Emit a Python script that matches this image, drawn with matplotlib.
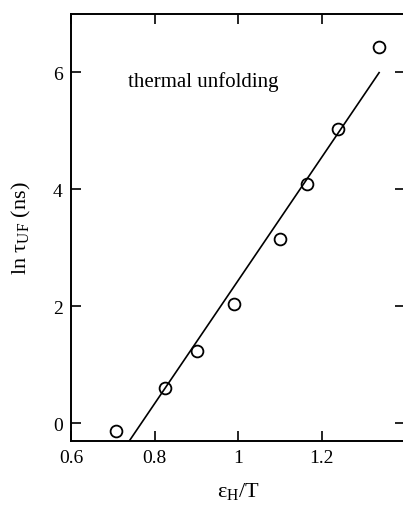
import numpy as np
import matplotlib
matplotlib.use("Agg")
import matplotlib.pyplot as plt

# measured points
eps_over_T = [0.708, 0.825, 0.901, 0.991, 1.100, 1.166, 1.239, 1.338]
ln_tau = [-0.13, 0.605, 1.24, 2.035, 3.154, 4.10, 5.03, 6.44]

# linear fit drawn through the data
fit_slope = 10.53
fit_x0 = 0.7685
fit_xrange = [0.740, 1.338]

x_ticks = [0.6, 0.8, 1.0, 1.2]
x_ticklabels = ["0.6", "0.8", "1", "1.2"]
y_ticks = [0, 2, 4, 6]

plt.rcParams['font.family'] = ['Liberation Serif', 'DejaVu Serif']
plt.rcParams['mathtext.fontset'] = 'custom'
plt.rcParams['mathtext.rm'] = 'Liberation Serif'
plt.rcParams['mathtext.it'] = 'Liberation Serif'

fig = plt.figure(figsize=(4.03, 5.06), dpi=100)
# right spine sits just past the image edge, as in the original
ax = fig.add_axes([71 / 403, 1 - 441.7 / 506, 334 / 403, (441.7 - 15) / 506])

xf = np.array(fit_xrange)
ax.plot(xf, fit_slope * (xf - fit_x0), color='black', lw=1.2)
ax.plot(eps_over_T, ln_tau, 'o', mfc='none', mec='black', ms=8.5, mew=1.3)

ax.text(0.737, 5.86, 'thermal unfolding', fontsize=15, va='center')

ax.set_xlim(0.6, 1.4)
ax.set_ylim(-0.3, 7.0)
ax.set_xticks(x_ticks)
ax.set_xticklabels(x_ticklabels)
ax.set_yticks(y_ticks)
ax.tick_params(direction='in', length=7, width=1.2, top=True, right=True,
               labelsize=14, pad=6)
for s in ax.spines.values():
    s.set_linewidth(1.4)

ax.set_xlabel(r'ε$_{\mathrm{H}}$/T', fontsize=16, labelpad=10)
ax.set_ylabel(r'ln τ$_{\mathrm{UF}}$ (ns)', fontsize=16, labelpad=14)

fig.savefig('out.png', dpi=100)
